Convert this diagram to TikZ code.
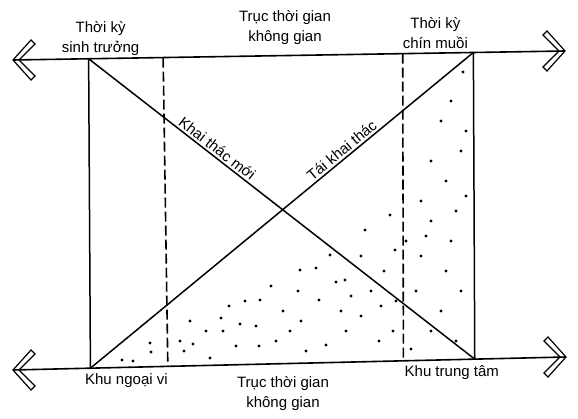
\documentclass[tikz,border=0pt]{standalone}
\usepackage{fontspec}
\setmainfont{Liberation Sans}
\usetikzlibrary{positioning,calc}
\tikzset{
  axis/.style={line width=1.6pt},
  rule/.style={line width=1.5pt},
  cut/.style={line width=1.6pt, dash pattern=on 10pt off 4pt},
  trend/.style={line width=1.5pt},
  lbl/.style={align=center, font=\fontsize{15}{20}\selectfont, inner sep=1pt},
  chevron/.pic={\draw[line width=1.2pt, line join=miter]
     (0,0) -- (18,-20) -- (22,-16) -- (6,0) -- (22,16) -- (18,20) -- cycle;}
}

\begin{document}
\begin{tikzpicture}[x=1pt,y=-1pt]
\useasboundingbox (0,0) rectangle (578,419);
% ends of the two axes
\coordinate (tL) at (13,60);
\coordinate (tR) at (565,51);
\coordinate (bL) at (13,370);
\coordinate (bR) at (566,357);
% feet of the verticals
\coordinate (s1) at ($(tL)!0.137!(tR)$);
\coordinate (s2) at ($(tL)!0.272!(tR)$);
\coordinate (s3) at ($(tL)!0.706!(tR)$);
\coordinate (s4) at ($(tL)!0.834!(tR)$);
\coordinate (k1) at ($(bL)!0.140!(bR)$);
\coordinate (k2) at ($(bL)!0.280!(bR)$);
\coordinate (k3) at ($(bL)!0.706!(bR)$);
\coordinate (k4) at ($(bL)!0.835!(bR)$);

% stippling under the rising line
\foreach \p in {(122,360),(133,361),(150,343),(151,352),(180,341),(184,351),
  (190,321),(193,344),(210,358),(221,318),(223,331),(229,306),(240,324),
  (245,301),(256,326),(259,346),(271,286),(283,311),(290,331),(298,291),
  (301,321),(316,268),(319,300),(326,345),(336,282),(341,311),(346,331),
  (361,256),(361,316),(371,291),(379,341),(384,271),(393,331),(396,301),
  (406,241),(411,349),(416,291),(421,256),(431,331),(431,221),(441,311),
  (446,181),(446,271),(451,101),(456,211),(461,151),(461,291),(463,72),
  (466,131),(456,341),(421,201),(431,161),(441,121),(426,236),(451,241),
  (466,196),(381,306),(351,296),(306,351),(276,341),(236,346),(206,331),
  (330,255),(300,270),(260,300),(365,230),(390,215),(395,250),(345,280)}
  \fill \p circle (1.6pt);

% axes
\draw[axis] (tL) -- (tR);
\draw[axis] (bL) -- (bR);
\pic at (tL) {chevron};
\pic at (bL) {chevron};
\pic[rotate=180] at (tR) {chevron};
\pic[rotate=180] at (bR) {chevron};

% verticals
\draw[rule] (s1) -- (k1);
\draw[rule] (s4) -- (k4);
\draw[cut] (s2) -- (k2);
\draw[cut] (s3) -- (k3);

% the two crossing lines
\draw[trend] (s1) -- node[lbl, sloped, above=1pt, pos=0.32] {Khai thác mới} (k4);
\draw[trend] (k1) -- node[lbl, sloped, above=1pt, pos=0.67] {Tái khai thác} (s4);

% labels
\node[lbl, above=2pt of s1, xshift=12pt] (ts) {Thời kỳ\\sinh trưởng};
\node[lbl, above=3pt of s4, xshift=-38pt] (tc) {Thời kỳ\\chín muồi};
\node[lbl] (ta) at (285,28) {Trục thời gian\\không gian};
\node[lbl, below=4pt of k1, xshift=36pt] (kn) {Khu ngoại vi};
\node[lbl, below=5pt of k4, xshift=-23pt] (kt) {Khu trung tâm};
\node[lbl] (ba) at (283,394) {Trục thời gian\\không gian};
\end{tikzpicture}
\end{document}
